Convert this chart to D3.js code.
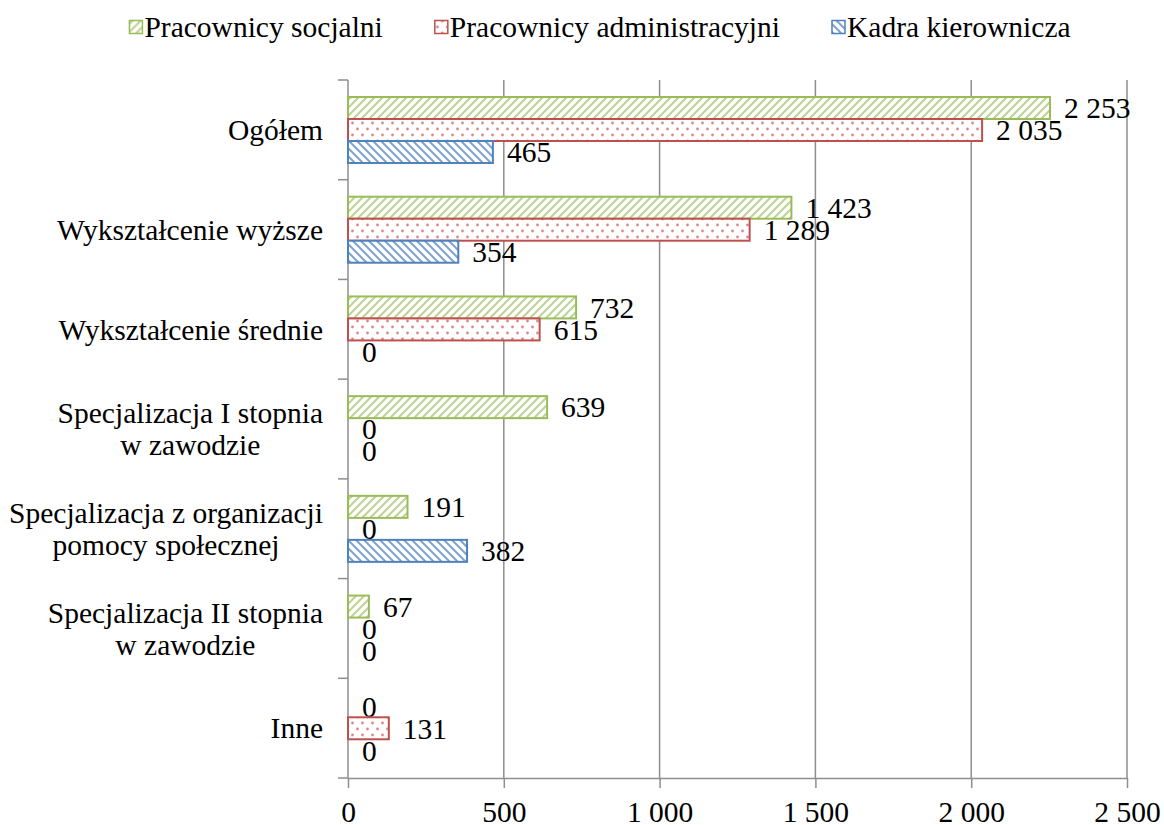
<!DOCTYPE html>
<html>
<head>
<meta charset="utf-8">
<script src="https://cdn.jsdelivr.net/npm/d3@7"></script>
<style>
  body { margin: 0; background: #fff; }
  text { font-family: "Liberation Serif", "Times New Roman", serif; fill: #000; }
</style>
</head>
<body>
<svg id="chart" width="1164" height="825"></svg>
<script>
const categories = [
  "Ogółem",
  "Wykształcenie wyższe",
  "Wykształcenie średnie",
  "Specjalizacja I stopnia\nw zawodzie",
  "Specjalizacja z organizacji\npomocy społecznej",
  "Specjalizacja II stopnia\nw zawodzie",
  "Inne"
];
const seriesNames = ["Pracownicy socjalni", "Pracownicy administracyjni", "Kadra kierownicza"];
const socjalni = [2253, 1423, 732, 639, 191, 67, 0];
const administracyjni = [2035, 1289, 615, 0, 0, 0, 131];
const kierownicza = [465, 354, 0, 0, 382, 0, 0];
const xTicks = [0, 500, 1000, 1500, 2000, 2500];

const seriesValues = [socjalni, administracyjni, kierownicza];
const colors = ["#9bbb59", "#c0504d", "#4f81bd"];
const patternIds = ["pat-green", "pat-red", "pat-blue"];

const svg = d3.select("#chart");
const fmt = d3.formatLocale({ decimal: ",", thousands: " ", grouping: [3], currency: ["", ""] }).format(",d");

const plotLeft = 348, plotRight = 1127, plotTop = 80, plotBottom = 778;
const fontSize = 29.5;
const serif = "'Liberation Serif', 'Times New Roman', serif";

// patterns
const defs = svg.append("defs");
const pg = defs.append("pattern").attr("id", "pat-green")
  .attr("patternUnits", "userSpaceOnUse").attr("width", 8).attr("height", 8);
pg.append("rect").attr("width", 8).attr("height", 8).attr("fill", "#fff");
pg.append("path").attr("d", "M-2,2 L2,-2 M0,8 L8,0 M6,10 L10,6")
  .attr("stroke", "#bcd392").attr("stroke-width", 2);

const pr = defs.append("pattern").attr("id", "pat-red")
  .attr("patternUnits", "userSpaceOnUse").attr("width", 10).attr("height", 12);
pr.append("rect").attr("width", 10).attr("height", 12).attr("fill", "#fff");
pr.append("circle").attr("cx", 2.5).attr("cy", 3).attr("r", 1.4).attr("fill", "#dc8a88");
pr.append("circle").attr("cx", 7.5).attr("cy", 9).attr("r", 1.4).attr("fill", "#dc8a88");

const pb = defs.append("pattern").attr("id", "pat-blue")
  .attr("patternUnits", "userSpaceOnUse").attr("width", 8).attr("height", 8);
pb.append("rect").attr("width", 8).attr("height", 8).attr("fill", "#fff");
pb.append("path").attr("d", "M-2,6 L2,10 M0,0 L8,8 M6,-2 L10,2")
  .attr("stroke", "#7fa3d1").attr("stroke-width", 2);

const x = d3.scaleLinear().domain([0, 2500]).range([plotLeft, plotRight]);
const y = d3.scaleBand().domain(categories).range([plotTop, plotBottom]);
const inner = d3.scaleBand().domain(seriesNames).range([17, 17 + 66]);

// gridlines
svg.append("g").selectAll("line")
  .data(xTicks.slice(1))
  .join("line")
  .attr("x1", d => x(d)).attr("x2", d => x(d))
  .attr("y1", plotTop).attr("y2", plotBottom)
  .attr("stroke", "#8e8e8e").attr("stroke-width", 1.5);

// x axis
const xAxis = svg.append("g")
  .attr("transform", `translate(0,${plotBottom})`)
  .call(d3.axisBottom(x).tickValues(xTicks).tickFormat(fmt).tickSizeInner(10).tickSizeOuter(0).tickPadding(13));
xAxis.attr("font-family", null);
xAxis.select(".domain").attr("stroke", "#8e8e8e").attr("stroke-width", 1.5);
xAxis.selectAll(".tick line").attr("stroke", "#8e8e8e").attr("stroke-width", 1.5);
xAxis.selectAll(".tick text").style("font-family", serif)
  .style("font-size", fontSize + "px").attr("fill", "#000");

// y axis
const yAxis = svg.append("g");
yAxis.append("line").attr("x1", plotLeft).attr("x2", plotLeft).attr("y1", plotTop).attr("y2", plotBottom)
  .attr("stroke", "#8e8e8e").attr("stroke-width", 1.5);
yAxis.selectAll("line.tick")
  .data(categories.concat(["end"]))
  .join("line").attr("class", "tick")
  .attr("x1", plotLeft - 10).attr("x2", plotLeft)
  .attr("y1", d => d === "end" ? plotBottom : y(d))
  .attr("y2", d => d === "end" ? plotBottom : y(d))
  .attr("stroke", "#8e8e8e").attr("stroke-width", 1.5);

// category labels: block right-aligned, lines centred within the block
categories.forEach(cat => {
  const lines = cat.split("\n");
  const g = svg.append("g");
  const cy = y(cat) + y.bandwidth() / 2;
  const lh = 32;
  const texts = lines.map((ln, i) => g.append("text")
    .attr("y", cy + (i - (lines.length - 1) / 2) * lh)
    .attr("dy", "0.35em")
    .attr("text-anchor", "middle")
    .style("font-size", fontSize + "px")
    .text(ln));
  const w = d3.max(texts, t => t.node().getComputedTextLength());
  texts.forEach(t => t.attr("x", 323 - w / 2));
});

// bars
seriesNames.forEach((s, si) => {
  const data = categories.map((c, i) => ({ cat: c, v: seriesValues[si][i] }));
  const g = svg.append("g");
  g.selectAll("rect")
    .data(data.filter(d => d.v > 0))
    .join("rect")
    .attr("x", x(0))
    .attr("y", d => y(d.cat) + inner(s))
    .attr("width", d => x(d.v) - x(0))
    .attr("height", inner.bandwidth())
    .attr("fill", `url(#${patternIds[si]})`)
    .attr("stroke", colors[si]).attr("stroke-width", 2);
  g.selectAll("text")
    .data(data)
    .join("text")
    .attr("x", d => x(d.v) + 14)
    .attr("y", d => y(d.cat) + inner(s) + inner.bandwidth() / 2)
    .attr("dy", "0.35em")
    .style("font-size", fontSize + "px")
    .text(d => fmt(d.v));
});

// legend
const legend = svg.append("g");
const gap = 52;
let lx = 0;
seriesNames.forEach((s, si) => {
  const item = legend.append("g").attr("transform", `translate(${lx},0)`);
  item.append("rect").attr("x", 0).attr("y", 20.5).attr("width", 13).attr("height", 13)
    .attr("fill", `url(#${patternIds[si]})`).attr("stroke", colors[si]).attr("stroke-width", 1.5);
  const t = item.append("text").attr("x", 15).attr("y", 27).attr("dy", "0.35em")
    .style("font-size", fontSize + "px").text(s);
  lx += 15 + t.node().getComputedTextLength() + gap;
});
const lw = lx - gap;
legend.attr("transform", `translate(${600 - lw / 2},0)`);
</script>
</body>
</html>
